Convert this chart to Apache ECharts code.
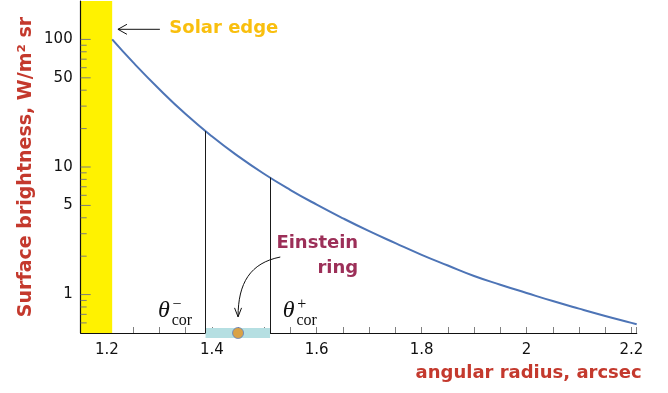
<!DOCTYPE html>
<html>
<head>
<meta charset="utf-8">
<script src="https://cdn.jsdelivr.net/npm/echarts@6/dist/echarts.min.js"></script>
<style>
  html, body { margin: 0; padding: 0; background: #fff; }
  #chart { width: 668px; height: 393px; }
</style>
</head>
<body>
<div id="chart"></div>
<script>
// surface brightness profile
var radius = [1.21, 1.25, 1.30, 1.35, 1.40, 1.45, 1.50, 1.55, 1.60, 1.65, 1.70,
  1.75, 1.80, 1.85, 1.90, 1.95, 2.00, 2.05, 2.10, 2.15, 2.20, 2.21];
var brightness = [100, 66, 40.7, 26.0, 17.4, 12.16, 8.81, 6.6, 5.07, 3.96, 3.14,
  2.53, 2.05, 1.69, 1.40, 1.195, 1.03, 0.89, 0.776, 0.68, 0.60, 0.585];

var xTickLabels = [1.2, 1.4, 1.6, 1.8, 2, 2.2];
var yTickLabels = [1, 5, 10, 50, 100];
var yMinorTicks = [0.6, 0.7, 0.8, 0.9, 2, 3, 4, 6, 7, 8, 9, 20, 30, 40, 60, 70, 80, 90];

var solarEdge = [1.15, 1.21];
var coronaX = [1.388, 1.511];     // theta_cor- , theta_cor+
var coronaTop = [19.1, 8.27];     // where the vertical lines meet the curve
var ringX = [1.45];

var yFloor = 0.5;
var red = '#c4392d';
var font = '"DejaVu Sans", sans-serif';

var curveData = radius.map(function (r, i) { return [r, brightness[i]]; });

var tickData = [];
yTickLabels.forEach(function (v) { tickData.push([solarEdge[0], v, 1]); });
yMinorTicks.forEach(function (v) { tickData.push([solarEdge[0], v, 0]); });

function renderYTick(params, api) {
  var p = api.coord([api.value(0), api.value(1)]);
  var major = api.value(2) === 1;
  var children = [{
    type: 'line',
    shape: { x1: p[0], y1: p[1], x2: p[0] + (major ? 10 : 6), y2: p[1] },
    style: { stroke: '#7c7c7c', lineWidth: 1 }
  }];
  if (major) {
    children.push({
      type: 'text',
      style: {
        text: String(api.value(1)), x: p[0] - 8, y: p[1],
        align: 'right', verticalAlign: 'middle',
        fontSize: 15, fontFamily: font, fill: '#111'
      }
    });
  }
  return { type: 'group', children: children };
}

function theta(anchor, sign) {
  var p = anchor;
  return [
    { type: 'text', style: { text: 'θ', x: p[0], y: p[1], align: 'center', verticalAlign: 'middle',
        fontSize: 24, fontStyle: 'italic', fontFamily: '"Liberation Serif", serif', fill: '#111' } },
    { type: 'text', style: { text: sign, x: p[0] + 13, y: p[1] - 6, align: 'center', verticalAlign: 'middle',
        fontSize: 16, fontFamily: '"Liberation Serif", serif', fill: '#111' } },
    { type: 'text', style: { text: 'cor', x: p[0] + 18, y: p[1] + 10, align: 'center', verticalAlign: 'middle',
        fontSize: 16, fontFamily: '"Liberation Serif", serif', fill: '#111' } }
  ];
}

function renderNotes(params, api) {
  var kids = [];
  // Solar edge arrow + label
  var tip = api.coord([1.221, 120]);
  var tail = api.coord([1.301, 120]);
  kids.push({ type: 'line', shape: { x1: tail[0], y1: tail[1], x2: tip[0], y2: tip[1] },
    style: { stroke: '#111', lineWidth: 1 } });
  kids.push({ type: 'polyline', shape: { points: [[tip[0] + 9, tip[1] - 5], tip, [tip[0] + 9, tip[1] + 5]] },
    style: { stroke: '#111', lineWidth: 1, fill: null } });
  var sl = api.coord([1.319, 120]);
  kids.push({ type: 'text', style: { text: 'Solar edge', x: sl[0], y: sl[1] - 1, align: 'left', verticalAlign: 'middle',
    fontSize: 18, fontWeight: 'bold', fontFamily: font, fill: '#f9bf0e' } });

  // Einstein ring label + curved arrow
  var e1 = api.coord([1.679, 2.54]);
  var e2 = api.coord([1.679, 1.62]);
  kids.push({ type: 'text', style: { text: 'Einstein', x: e1[0], y: e1[1], align: 'right', verticalAlign: 'middle',
    fontSize: 18, fontWeight: 'bold', fontFamily: font, fill: '#9c2f58' } });
  kids.push({ type: 'text', style: { text: 'ring', x: e2[0], y: e2[1], align: 'right', verticalAlign: 'middle',
    fontSize: 18, fontWeight: 'bold', fontFamily: font, fill: '#9c2f58' } });
  var a0 = api.coord([1.5305, 1.97]);
  var a1 = api.coord([ringX[0], 0.669]);
  kids.push({ type: 'bezierCurve',
    shape: { x1: a0[0], y1: a0[1], cpx1: a0[0] - 30, cpy1: a0[1] + 6, cpx2: a1[0], cpy2: a1[1] - 34, x2: a1[0], y2: a1[1] },
    style: { stroke: '#111', lineWidth: 1, fill: null } });
  kids.push({ type: 'polyline', shape: { points: [[a1[0] - 3.5, a1[1] - 9], a1, [a1[0] + 3.5, a1[1] - 9]] },
    style: { stroke: '#111', lineWidth: 1, fill: null } });

  // theta_cor labels
  kids = kids.concat(theta(api.coord([1.3086, 0.745]), '−'));
  kids = kids.concat(theta(api.coord([1.5465, 0.745]), '+'));
  return { type: 'group', children: kids };
}

var chart = echarts.init(document.getElementById('chart'), null, { renderer: 'canvas' });

var option = {
  animation: false,
  backgroundColor: '#fff',
  grid: { left: 80.7, right: 31.3, top: 1, bottom: 60 },
  xAxis: {
    type: 'value',
    min: 1.15,
    max: 2.21,
    interval: 0.05,
    splitLine: { show: false },
    axisLine: { lineStyle: { color: '#111', width: 1.2 } },
    axisTick: { inside: true, length: 6, lineStyle: { color: '#808080' } },
    axisLabel: {
      margin: 10,
      fontSize: 15,
      fontFamily: font,
      color: '#111',
      formatter: function (v) {
        var r = Math.round(v * 100) / 100;
        return xTickLabels.indexOf(r) >= 0 ? String(r) : '';
      }
    },
    name: 'angular radius, arcsec',
    nameLocation: 'end',
    nameGap: 5,
    nameTextStyle: {
      color: red, fontSize: 18, fontWeight: 'bold', fontFamily: font,
      align: 'right', verticalAlign: 'top', padding: [31, 0, 0, 0]
    }
  },
  yAxis: {
    type: 'log',
    logBase: 10,
    min: yFloor,
    max: 200,
    z: 5,
    splitLine: { show: false },
    axisLine: { show: true, lineStyle: { color: '#111', width: 1.2 } },
    axisTick: { show: false },
    axisLabel: { show: false },
    name: 'Surface brightness, W/m² sr',
    nameLocation: 'middle',
    nameRotate: 90,
    nameGap: 45,
    nameTextStyle: { color: red, fontSize: 19, fontWeight: 'bold', fontFamily: font }
  },
  series: [
    {
      type: 'line',
      data: curveData,
      smooth: 0.5,
      symbol: 'none',
      lineStyle: { color: '#4d74b6', width: 2 },
      z: 3,
      markArea: {
        silent: true,
        itemStyle: { color: '#fff200', opacity: 1 },
        data: [[{ xAxis: solarEdge[0] }, { xAxis: solarEdge[1] }]]
      },
      markLine: {
        silent: true,
        symbol: ['none', 'none'],
        label: { show: false },
        lineStyle: { color: '#1a1a1a', width: 1, type: 'solid' },
        data: coronaX.map(function (x, i) {
          return [{ coord: [x, yFloor] }, { coord: [x, coronaTop[i]] }];
        })
      }
    },
    {
      type: 'line',
      data: [[coronaX[0], yFloor], [coronaX[1], yFloor]],
      symbol: 'none',
      clip: false,
      z: 4,
      lineStyle: { color: '#b5dfe2', width: 10, cap: 'butt' }
    },
    {
      type: 'scatter',
      data: ringX.map(function (x) { return [x, yFloor]; }),
      symbolSize: 11,
      clip: false,
      z: 6,
      itemStyle: { color: '#e3921f', borderColor: '#5f80c0', borderWidth: 1 }
    },
    {
      type: 'custom',
      data: tickData,
      encode: { x: 0, y: 1 },
      renderItem: renderYTick,
      clip: false,
      silent: true,
      z: 6
    },
    {
      type: 'custom',
      data: [[1.5, 1]],
      encode: { x: 0, y: 1 },
      renderItem: renderNotes,
      clip: false,
      silent: true,
      z: 7
    }
  ]
};

chart.setOption(option);
</script>
</body>
</html>
